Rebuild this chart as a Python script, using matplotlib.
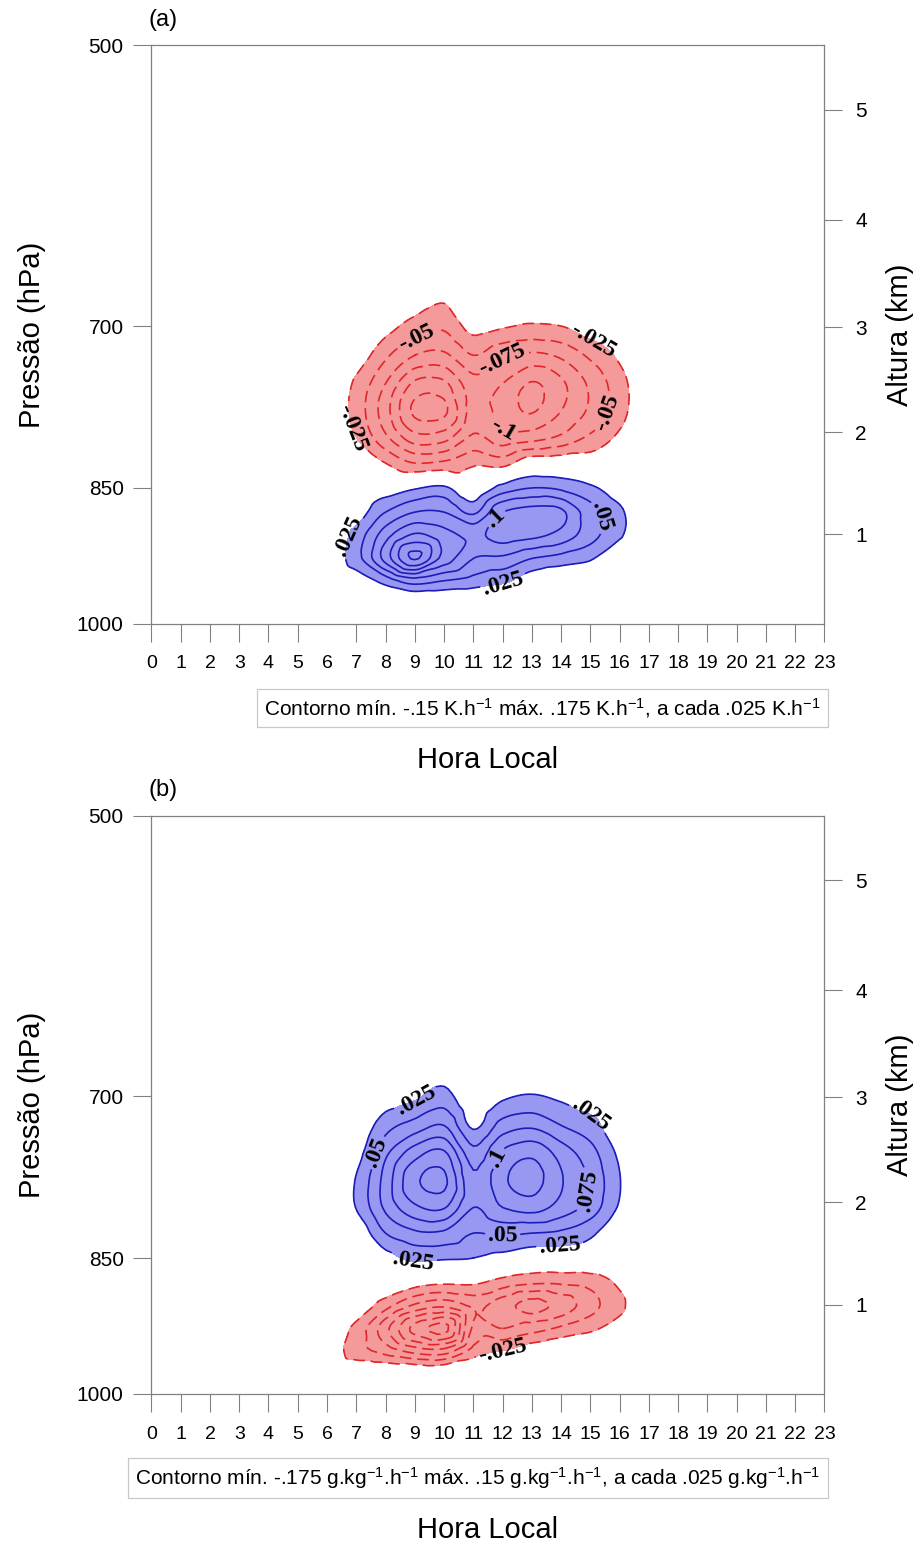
import numpy as np
import matplotlib.pyplot as plt
import matplotlib.tri as mtri
from matplotlib.ticker import NullLocator

plt.rcParams['font.family'] = ['Liberation Sans Narrow', 'Liberation Sans', 'DejaVu Sans']
plt.rcParams['mathtext.default'] = 'regular'

# horas locais e níveis de pressão (hPa) da grade
horas = [6, 7, 8, 9, 10, 11, 12, 13, 14, 15, 16, 17]
niveis = [1000, 975, 950, 925, 900, 875, 850, 825, 800, 775, 750, 725, 700, 675, 650]

# (a) taxa de aquecimento (K/h): uma linha por hora, de 1000 a 650 hPa
aquec = [
    [0, 0, 0, 0, 0, 0, 0, 0, 0, 0, 0, 0, 0, 0, 0],
    [0, 0, .01, .04, .035, .01, 0, 0, -.025, -.035, -.03, -.01, 0, 0, 0],
    [0, 0, .035, .11, .09, .05, .01, -.025, -.07, -.09, -.075, -.045, -.015, 0, 0],
    [0, 0, .063, .178, .13, .075, .022, -.05, -.115, -.155, -.13, -.075, -.035, -.01, 0],
    [0, 0, .05, .115, .11, .075, .03, -.045, -.11, -.155, -.13, -.08, -.045, -.02, 0],
    [0, 0, .04, .075, .095, .045, 0, -.03, -.07, -.09, -.085, -.05, -.015, 0, 0],
    [0, 0, .03, .07, .11, .1, .035, -.035, -.09, -.11, -.1, -.07, -.022, -.005, 0],
    [0, 0, .01, .05, .105, .11, .05, -.005, -.085, -.127, -.127, -.08, -.028, -.005, 0],
    [0, 0, 0, .04, .09, .105, .045, -.005, -.07, -.1, -.105, -.07, -.025, 0, 0],
    [0, 0, 0, .028, .06, .06, .03, -.01, -.045, -.07, -.07, -.045, -.01, 0, 0],
    [0, 0, 0, 0, .028, .03, .01, 0, -.02, -.035, -.035, -.02, 0, 0, 0],
    [0, 0, 0, 0, 0, 0, 0, 0, 0, 0, 0, 0, 0, 0, 0],
]

# (b) taxa de umedecimento (g/kg/h), mesma organização
umed = [
    [0, 0, 0, 0, 0, 0, 0, 0, 0, 0, 0, 0, 0, 0, 0],
    [0, 0, -.04, -.033, -.005, 0, 0, .005, .026, .027, .015, .005, 0, 0, 0],
    [0, 0, -.06, -.092, -.04, 0, .015, .05, .08, .085, .07, .04, .01, 0, 0],
    [0, 0, -.085, -.158, -.08, -.012, .03, .07, .12, .145, .115, .06, .02, 0, 0],
    [0, 0, -.09, -.183, -.095, -.02, .028, .07, .127, .155, .13, .075, .035, .01, 0],
    [0, 0, -.04, -.07, -.07, -.02, .025, .05, .075, .08, .06, .02, 0, 0, 0],
    [0, 0, -.025, -.075, -.09, -.035, .015, .055, .1, .12, .105, .06, .02, 0, 0],
    [0, 0, -.01, -.06, -.11, -.045, .005, .05, .11, .135, .12, .07, .027, 0, 0],
    [0, 0, 0, -.045, -.09, -.045, .005, .045, .09, .102, .09, .05, .02, 0, 0],
    [0, 0, 0, -.03, -.06, -.04, .005, .03, .065, .072, .06, .035, .01, 0, 0],
    [0, 0, 0, -.015, -.03, -.02, 0, .005, .022, .026, .02, .005, 0, 0, 0],
    [0, 0, 0, 0, 0, 0, 0, 0, 0, 0, 0, 0, 0, 0, 0],
]

# onde ficam os rótulos das isolinhas (hora, hPa)
rot_a_pos = [(6.8, 901), (11.9, 886), (15.3, 880), (12.0, 946)]
rot_a_neg = [(9.1, 713), (12.0, 729), (15.1, 712), (6.7, 793), (12.0, 793), (15.65, 777)]
rot_b_pos = [(9.05, 703), (15.1, 712), (7.8, 750), (12.0, 756), (15.1, 784),
             (12.0, 832), (13.95, 835), (8.95, 860)]
rot_b_neg = [(12.0, 949)]

legenda_a = 'Contorno mín. -.15 K.h$^{-1}$ máx. .175 K.h$^{-1}$, a cada .025 K.h$^{-1}$'
legenda_b = ('Contorno mín. -.175 g.kg$^{-1}$.h$^{-1}$ máx. .15 g.kg$^{-1}$.h$^{-1}$, '
             'a cada .025 g.kg$^{-1}$.h$^{-1}$')

niv_pos = np.arange(0.025, 0.19, 0.025)
niv_neg = -niv_pos[::-1]

AZUL_F, AZUL_L = '#9898f2', '#1c1cb8'
VERM_F, VERM_L = '#f59a9a', '#e0262a'
CINZA = '#808080'
ESC = 19.7  # escala vertical para a triangulação ficar ~isotrópica


def campo_suave(tabela):
    z = np.array(tabela, dtype=float).T
    H, P = np.meshgrid(horas, niveis)
    s = np.log2(1000.0 / P) * ESC
    tri = mtri.Triangulation(H.ravel(), s.ravel())
    interp = mtri.CubicTriInterpolator(tri, z.ravel(), kind='geom')
    tri_f, z_f = mtri.UniformTriRefiner(tri).refine_field(z.ravel(), triinterpolator=interp, subdiv=3)
    p_f = 1000.0 / 2 ** (tri_f.y / ESC)
    return mtri.Triangulation(tri_f.x, p_f, tri_f.triangles), z_f


def fmt(v):
    return ('%.3f' % v).rstrip('0').replace('0.', '.')


def painel(ax, tabela, rot_pos, rot_neg, legenda, letra):
    ax.set_yscale('log')
    ax.set_xlim(0, 23)
    ax.set_ylim(1000, 500)

    tri, z = campo_suave(tabela)
    ax.tricontourf(tri, z, levels=[0.025, 1], colors=[AZUL_F])
    ax.tricontourf(tri, z, levels=[-1, -0.025], colors=[VERM_F])
    cp = ax.tricontour(tri, z, levels=niv_pos, colors=AZUL_L, linewidths=1.2)
    cn = ax.tricontour(tri, z, levels=niv_neg, colors=VERM_L, linewidths=1.2,
                       linestyles=[(0, (7, 3.5))])
    with plt.rc_context({'font.family': 'Liberation Serif', 'font.weight': 'bold'}):
        ax.clabel(cp, manual=rot_pos, fmt=fmt, fontsize=17, colors='black', inline_spacing=3)
        ax.clabel(cn, manual=rot_neg, fmt=fmt, fontsize=17, colors='black', inline_spacing=3)

    ax.set_xticks(range(24))
    ax.set_yticks([1000, 850, 700, 500])
    ax.set_yticklabels(['1000', '850', '700', '500'])
    ax.yaxis.set_minor_locator(NullLocator())
    ax.tick_params(direction='out', length=13, width=0.8, color=CINZA, labelsize=14)
    ax.tick_params(axis='x', pad=10)
    ax.tick_params(axis='y', pad=7, labelsize=15)
    for sp in ax.spines.values():
        sp.set_color(CINZA)
        sp.set_linewidth(0.9)

    # eixo de altura (atmosfera padrão)
    km = np.array([1, 2, 3, 4, 5])
    p_km = 1013.25 * (1 - 2.25577e-5 * km * 1000) ** 5.25588
    ax2 = ax.twinx()
    ax2.set_yscale('log')
    ax2.set_ylim(1000, 500)
    ax2.set_yticks(p_km)
    ax2.set_yticklabels([str(k) for k in km])
    ax2.yaxis.set_minor_locator(NullLocator())
    ax2.tick_params(direction='out', length=13, width=0.8, color=CINZA, labelsize=15, pad=9)
    for sp in ax2.spines.values():
        sp.set_visible(False)

    ax.set_ylabel('Pressão (hPa)', fontsize=21, labelpad=22)
    ax2.set_ylabel('Altura (km)', fontsize=21, labelpad=14)
    ax.text(0.5, -0.236, 'Hora Local', transform=ax.transAxes, ha='center', va='center', fontsize=21)
    ax.text(-0.004, 1.044, letra, transform=ax.transAxes, ha='left', va='center', fontsize=17)
    ax.text(0.994, -0.146, legenda, transform=ax.transAxes, ha='right', va='center', fontsize=15,
            bbox=dict(boxstyle='square,pad=0.35', fc='white', ec='#c8c8c8', lw=0.9))
    return ax


fig = plt.figure(figsize=(9.24, 15.46), dpi=100)
ax_a = fig.add_axes([0.1639, 0.5967, 0.7284, 0.3739])
ax_b = fig.add_axes([0.1639, 0.0986, 0.7284, 0.3739])

painel(ax_a, aquec, rot_a_pos, rot_a_neg, legenda_a, '(a)')
painel(ax_b, umed, rot_b_pos, rot_b_neg, legenda_b, '(b)')

# no painel (a) falta o traço da hora 6
ax_a.xaxis.get_major_ticks()[6].tick1line.set_visible(False)

fig.savefig('out.png', dpi=100)
